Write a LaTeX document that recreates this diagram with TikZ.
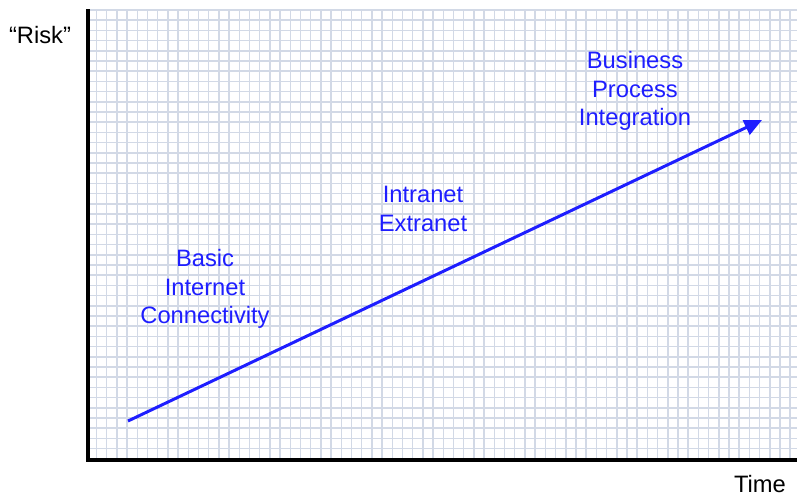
\documentclass[tikz,border=0pt]{standalone}
\usepackage{fontspec}
\setmainfont{Liberation Sans}
\usetikzlibrary{positioning}
\usetikzlibrary{arrows.meta}
\definecolor{gridblue}{RGB}{210,217,230}
\definecolor{stageblue}{RGB}{30,30,255}
\tikzset{
	every node/.style={align=center,inner sep=0pt},
	stage/.style={text=stageblue,font=\fontsize{13.5}{16.4}\selectfont},
	axislabel/.style={text=black,font=\fontsize{13.5}{16.4}\selectfont},
	gridline/.style={gridblue,line width=0.9pt},
	axis/.style={black,line width=2.3pt},
	trend/.style={stageblue,line width=1.7pt,-{Triangle[length=10pt,width=9pt]}}
}

\begin{document}
\begin{tikzpicture}[x=0.02cm,y=-0.02cm]
	\useasboundingbox (0,0) rectangle (797,495);
	\fill[white] (0,0) rectangle (797,495);
	% grid
	\foreach \gx in {0,...,68}
		\draw[gridline] (96.5+10.2*\gx,9) -- (96.5+10.2*\gx,460);
	\foreach \gy in {0,...,44}
		\draw[gridline] (88,10+10.2*\gy) -- (797,10+10.2*\gy);
	% axes
	\coordinate (top) at (88,9);
	\coordinate (origin) at (88,460);
	\coordinate (right) at (797,460);
	\draw[axis] (top) -- (origin) -- (right);
	\node (risk) [axislabel] at (40,35) {“Risk”};
	\node (time) [axislabel] at (760,484) {Time};
	% stages
	\node (basic) [stage] at (205,289) {Basic\\Internet\\Connectivity};
	\node (intra) [stage] at (423,209) {Intranet\\Extranet};
	\node (bpi) [stage] at (635,91) {Business\\Process\\Integration};
	\coordinate (start) at (128,421);
	\coordinate (end) at (762,120);
	\draw[trend] (start) -- (end);
\end{tikzpicture}
\end{document}
